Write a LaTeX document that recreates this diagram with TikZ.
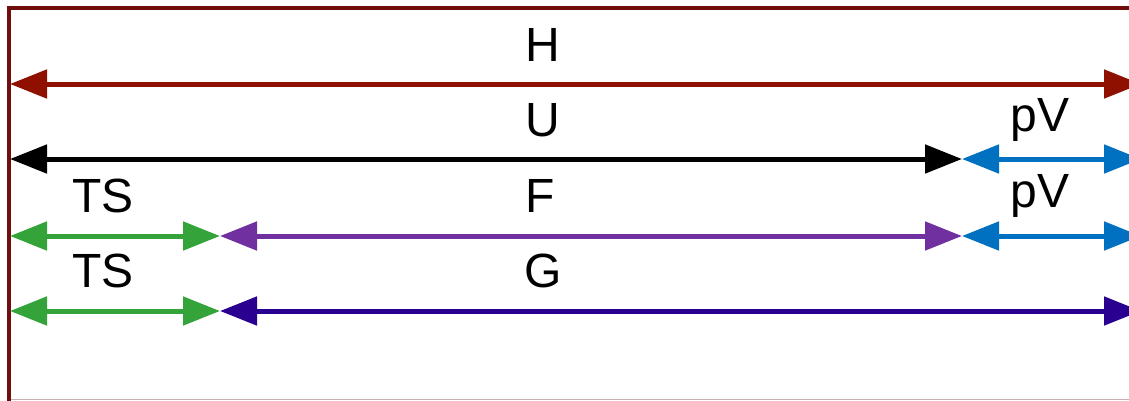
\documentclass[tikz,border=0pt]{standalone}
\usepackage{fontspec}
\setmainfont{Liberation Sans}
\usetikzlibrary{arrows.meta}
\definecolor{framec}{RGB}{112,14,14}
\definecolor{hcol}{RGB}{144,16,0}
\definecolor{tscol}{RGB}{51,163,58}
\definecolor{fcol}{RGB}{112,48,160}
\definecolor{gcol}{RGB}{42,0,144}
\definecolor{pvcol}{RGB}{0,112,192}
\definecolor{botc}{RGB}{200,176,176}
\tikzset{
  dim/.style={line width=5pt, {Triangle[length=37pt,width=28pt]}-{Triangle[length=37pt,width=28pt]}},
  lbl/.style={font=\fontsize{48}{50}\selectfont, inner sep=0pt, anchor=center}
}
\begin{document}
\begin{tikzpicture}[x=1pt,y=-1pt]
\useasboundingbox (0,0) rectangle (1129,400);
\fill[white] (0,0) rectangle (1129,400);
% frame
\draw[framec, line width=4pt] (9,402) -- (9,8) -- (1140,8);
\draw[botc, line width=1pt] (11,399.5) -- (1129,399.5);
% coordinates
\coordinate (L1) at (10,84);   \coordinate (R1) at (1141,84);
\coordinate (L2) at (10,159);  \coordinate (M2) at (962,159); \coordinate (R2) at (1141,159);
\coordinate (L3) at (10,236);  \coordinate (A3) at (220,236); \coordinate (M3) at (962,236); \coordinate (R3) at (1141,236);
\coordinate (L4) at (10,311);  \coordinate (A4) at (220,311); \coordinate (R4) at (1141,311);
% arrows
\draw[dim, hcol] (L1) -- (R1);
\draw[dim, black] (L2) -- (M2);
\draw[dim, pvcol] (M2) -- (R2);
\draw[dim, tscol] (L3) -- (A3);
\draw[dim, fcol] (A3) -- (M3);
\draw[dim, pvcol] (M3) -- (R3);
\draw[dim, tscol] (L4) -- (A4);
\draw[dim, gcol] (A4) -- (R4);
% labels
\node[lbl] (tH) at (543,45) {H};
\node[lbl] (tU) at (543,120) {U};
\node[lbl] (tpV1) at (1040,120) {pV};
\node[lbl] (tTS1) at (103,196) {TS};
\node[lbl] (tF) at (540,196) {F};
\node[lbl] (tpV2) at (1040,196) {pV};
\node[lbl] (tTS2) at (103,271) {TS};
\node[lbl] (tG) at (543,271) {G};
\end{tikzpicture}
\end{document}
